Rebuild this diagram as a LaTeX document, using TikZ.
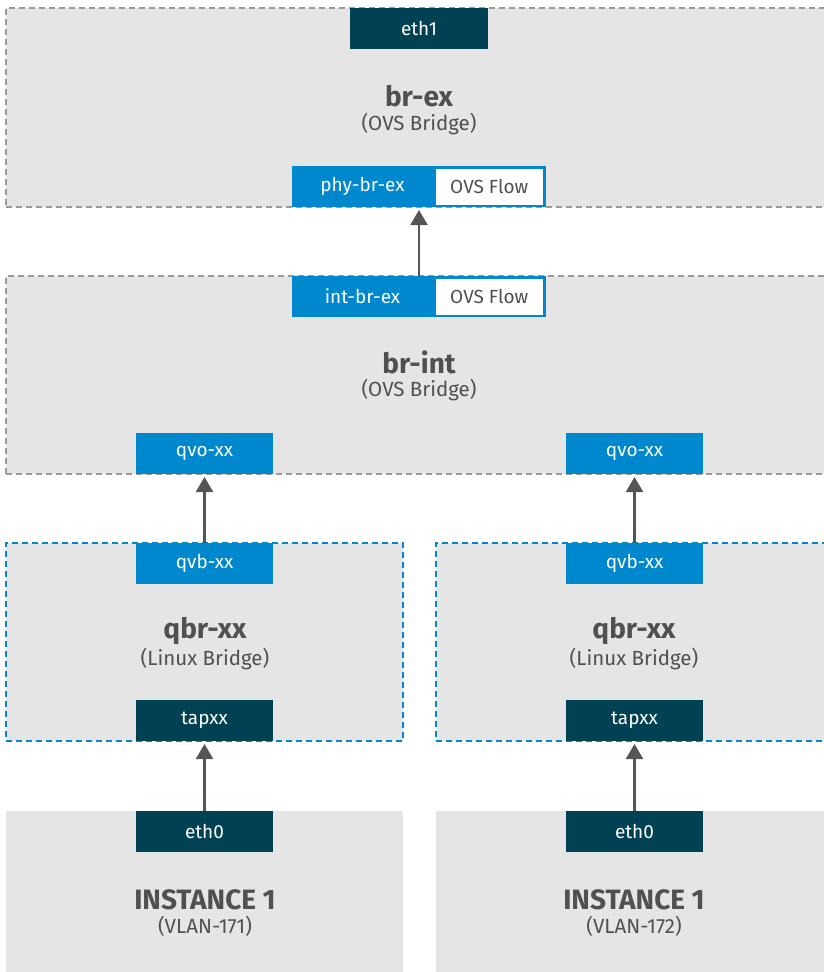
\documentclass[tikz,border=0pt]{standalone}
\usepackage{fontspec}
\setmainfont{Fira Sans}
\usetikzlibrary{arrows.meta}
\definecolor{bg}{HTML}{E5E5E5}
\definecolor{dashgray}{HTML}{999999}
\definecolor{portblue}{HTML}{0088CE}
\definecolor{dark}{HTML}{004153}
\definecolor{txt}{HTML}{505050}
\definecolor{arrowc}{HTML}{555555}
\tikzset{
  bridge/.style={draw=dashgray, fill=bg, line width=1.6pt, dash pattern=on 6pt off 4pt, anchor=north west, inner sep=0, outer sep=0},
  lbridge/.style={bridge, draw=portblue},
  inst/.style={fill=bg, anchor=north west, inner sep=0, outer sep=0},
  port/.style={fill=portblue, text=white, minimum width=137pt, minimum height=41pt, inner sep=0, outer sep=0, anchor=north west, font=\fontsize{19}{22}\selectfont},
  dport/.style={port, fill=dark},
  flow/.style={fill=white, draw=portblue, line width=2.5pt, text=txt, minimum width=110pt, minimum height=38.5pt, inner sep=0, outer sep=0, anchor=north west, font=\fontsize{19}{22}\selectfont},
  hold/.style={minimum width=254pt, minimum height=41pt, inner sep=0, outer sep=0, anchor=north west},
  title/.style={text=txt, font=\fontsize{28}{32}\selectfont\bfseries},
  sub/.style={text=txt, font=\fontsize{20.5}{24}\selectfont},
  arr/.style={draw=arrowc, line width=2.2pt, shorten >=3pt, -{Triangle[length=15pt, width=17pt]}}
}
\begin{document}
\begin{tikzpicture}[x=1pt, y=-1pt]
\useasboundingbox (0,0) rectangle (824,972);
\clip (0,0) rectangle (824,972);
% bridges
\node[bridge, minimum width=830pt, minimum height=199pt] (brex) at (6,8) {};
\node[bridge, minimum width=830pt, minimum height=198pt] (brint) at (6,276) {};
\node[lbridge, minimum width=397pt, minimum height=198pt] (qbr1) at (6,543) {};
\node[lbridge, minimum width=397pt, minimum height=198pt] (qbr2) at (436,543) {};
\node[inst, minimum width=397pt, minimum height=170pt] (inst1) at (6,811) {};
\node[inst, minimum width=397pt, minimum height=170pt] (inst2) at (436,811) {};
% br-ex
\node[dport, minimum width=138pt] (eth1) at (350,8) {eth1};
\node[title] (brexT) at (419,96) {br-ex};
\node[sub] (brexS) at (419,124) {(OVS Bridge)};
\node[hold] (phyhold) at (292,166) {};
\node[port, minimum width=141pt] (phy) at (292,166) {phy-br-ex};
\node[flow] (phyf) at (434.25,167.25) {OVS Flow};
% br-int
\node[hold] (inthold) at (292,276) {};
\node[port, minimum width=141pt] (intp) at (292,276) {int-br-ex};
\node[flow] (intf) at (434.25,277.25) {OVS Flow};
\node[title] (brintT) at (419,362) {br-int};
\node[sub] (brintS) at (419,390) {(OVS Bridge)};
\node[port] (qvo1) at (136,433) {qvo-xx};
\node[port] (qvo2) at (566,433) {qvo-xx};
% qbr
\node[port] (qvb1) at (136,543) {qvb-xx};
\node[port] (qvb2) at (566,543) {qvb-xx};
\node[title] (qbr1T) at (205,631) {qbr-xx};
\node[sub] (qbr1S) at (205,659) {(Linux Bridge)};
\node[title] (qbr2T) at (634,631) {qbr-xx};
\node[sub] (qbr2S) at (634,659) {(Linux Bridge)};
\node[dport] (tap1) at (136,700) {tapxx};
\node[dport] (tap2) at (566,700) {tapxx};
% instances
\node[dport] (eth01) at (136,811) {eth0};
\node[dport] (eth02) at (566,811) {eth0};
\node[title] (i1T) at (205,900) {INSTANCE 1};
\node[sub] (i1S) at (205,926) {(VLAN-171)};
\node[title] (i2T) at (634,900) {INSTANCE 1};
\node[sub] (i2S) at (634,926) {(VLAN-172)};
% arrows
\draw[arr] (inthold.north) -- (phyhold.south);
\draw[arr] (qvb1.north) -- (qvo1.south);
\draw[arr] (qvb2.north) -- (qvo2.south);
\draw[arr] (eth01.north) -- (tap1.south);
\draw[arr] (eth02.north) -- (tap2.south);
\end{tikzpicture}
\end{document}
